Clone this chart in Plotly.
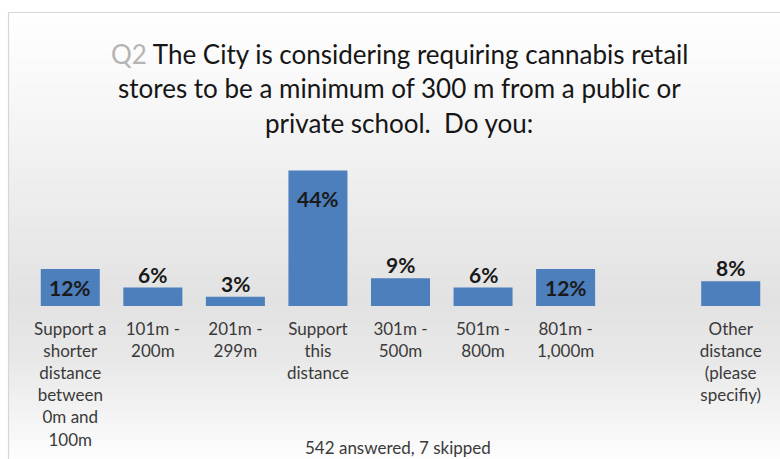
import plotly.graph_objects as go

# Survey responses (percent of respondents); the blank slot keeps the gap before the last category
categories = [
    "Support a<br>shorter<br>distance<br>between<br>0m and<br>100m",
    "101m -<br>200m",
    "201m -<br>299m",
    "Support<br>this<br>distance",
    "301m -<br>500m",
    "501m -<br>800m",
    "801m -<br>1,000m",
    "",
    "Other<br>distance<br>(please<br>specifiy)",
]
percent = [12, 6, 3, 44, 9, 6, 12, None, 8]

title_lines = [
    "<span style='color:#b4b4b4'>Q2</span> The City is considering requiring cannabis retail",
    "stores to be a minimum of 300 m from a public or",
    "private school.  Do you:",
]
footer_text = "542 answered, 7 skipped"

W, H = 780, 459
L, R, T, B = 29, 8, 152, 153
Y_MAX = 50
plot_w = W - L - R
plot_h = H - T - B
px_per_unit = plot_h / Y_MAX


def px_to_paper_x(px):
    return (px - L) / plot_w


def px_to_paper_y(py):
    return (H - B - py) / plot_h


x_idx = list(range(len(categories)))

fig = go.Figure()
fig.add_trace(go.Bar(
    x=x_idx,
    y=percent,
    marker=dict(color="#4c7fbc", line=dict(width=0)),
    hoverinfo="skip",
))

# Value labels: large bars carry the label inside, small bars above
annotations = []
for i, v in enumerate(percent):
    if v is None:
        continue
    bar_px = v * px_per_unit
    if bar_px > 30:
        shift = -min(28, bar_px / 2)
        annotations.append(dict(x=i, y=v, xref="x", yref="y", text=f"<b>{v}%</b>",
                                showarrow=False, yanchor="middle", yshift=shift,
                                font=dict(family="Lato", size=21, color="#1a1a1a")))
    else:
        annotations.append(dict(x=i, y=v, xref="x", yref="y", text=f"<b>{v}%</b>",
                                showarrow=False, yanchor="bottom", yshift=-1,
                                font=dict(family="Lato", size=21, color="#1a1a1a")))

# Title, one line at a time for even line spacing
for k, line in enumerate(title_lines):
    annotations.append(dict(x=px_to_paper_x(399), y=px_to_paper_y(54 + 34.5 * k),
                            xref="paper", yref="paper", text=line, showarrow=False,
                            xanchor="center", yanchor="middle",
                            font=dict(family="Lato", size=26, color="#161616")))

annotations.append(dict(x=px_to_paper_x(398), y=px_to_paper_y(447), xref="paper", yref="paper",
                        text=footer_text, showarrow=False, xanchor="center", yanchor="middle",
                        font=dict(family="Lato", size=17, color="#3a3a3a")))

# Panel background: soft vertical gradient inside a thin grey frame
shapes = []
stops = [(12, 255), (110, 246), (300, 226), (360, 232), (459, 253)]


def shade(py):
    for (y0, c0), (y1, c1) in zip(stops, stops[1:]):
        if y0 <= py <= y1:
            return c0 + (c1 - c0) * (py - y0) / (y1 - y0)
    return stops[-1][1]


step = 3
py = 12
while py < H:
    c = int(round(shade(py + step / 2)))
    shapes.append(dict(type="rect", xref="paper", yref="paper", layer="below",
                       x0=px_to_paper_x(8), x1=px_to_paper_x(W + 20),
                       y0=px_to_paper_y(py + step + 0.5), y1=px_to_paper_y(py),
                       fillcolor=f"rgb({c},{c},{c})", line=dict(width=0)))
    py += step
shapes.append(dict(type="rect", xref="paper", yref="paper", layer="below",
                   x0=px_to_paper_x(8.5), x1=px_to_paper_x(W + 20),
                   y0=px_to_paper_y(H + 20), y1=px_to_paper_y(12.5),
                   fillcolor="rgba(0,0,0,0)", line=dict(color="#d6d6d6", width=1.2)))

fig.update_layout(
    width=W, height=H,
    margin=dict(l=L, r=R, t=T, b=B),
    paper_bgcolor="white",
    plot_bgcolor="rgba(0,0,0,0)",
    showlegend=False,
    bargap=0.285,
    xaxis=dict(tickmode="array", tickvals=x_idx, ticktext=categories,
               range=[-0.5, len(categories) - 0.5],
               showgrid=False, zeroline=False, showline=False, ticks="",
               ticklabelstandoff=11,
               tickfont=dict(family="Lato", size=17, color="#3a3a3a"),
               fixedrange=True),
    yaxis=dict(range=[0, Y_MAX], visible=False, fixedrange=True),
    annotations=annotations,
    shapes=shapes,
)

fig.write_html("out.html")
